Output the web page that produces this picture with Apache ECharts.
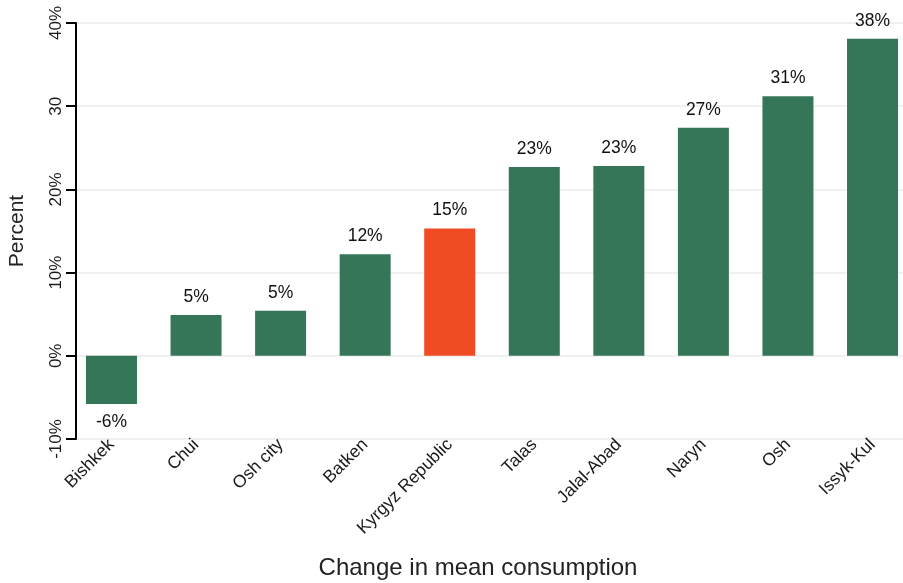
<!DOCTYPE html>
<html>
<head>
<meta charset="utf-8">
<script src="https://cdn.jsdelivr.net/npm/echarts@6/dist/echarts.min.js"></script>
<style>
  html, body { margin: 0; padding: 0; background: #ffffff; overflow: hidden; }
  #chart { width: 930px; height: 583px; }
</style>
</head>
<body>
<div id="chart"></div>
<script>
// Regions and the change in their mean consumption (percent)
const regions = ['Bishkek', 'Chui', 'Osh city', 'Batken', 'Kyrgyz Republic',
                 'Talas', 'Jalal-Abad', 'Naryn', 'Osh', 'Issyk-Kul'];
const changePct = [-5.8, 4.9, 5.4, 12.2, 15.3, 22.7, 22.8, 27.4, 31.2, 38.1];
// The national figure is highlighted
const nationalName = 'Kyrgyz Republic';
// Y tick labels, bottom to top
const yTickValues = [-10, 0, 10, 20, 30, 40];
const yTickLabels = ['-10%', '0%', '10%', '20%', '30', '40%'];

const FONT = "'Liberation Sans', Arial, Helvetica, sans-serif";
const GREEN = '#357658';
const ORANGE = '#F04B23';

const chart = echarts.init(document.getElementById('chart'), null, { renderer: 'canvas' });

chart.setOption({
  backgroundColor: '#ffffff',
  animation: false,
  // the plotting band runs a little past the right edge of the window
  grid: { left: 69.2, top: 23, width: 845.6, height: 416, containLabel: false },
  xAxis: {
    type: 'category',
    data: regions,
    axisLine: { show: false },
    axisTick: { show: false },
    axisLabel: {
      rotate: 45,
      margin: 3,
      interval: 0,
      color: '#1a1a1a',
      fontFamily: FONT,
      fontSize: 17.5
    },
    splitLine: { show: false }
  },
  yAxis: {
    type: 'value',
    min: -10,
    max: 40,
    interval: 10,
    offset: -6.8,
    axisLine: { show: true, lineStyle: { color: '#000000', width: 2 } },
    axisTick: { show: true, length: 10, lineStyle: { color: '#000000', width: 2 } },
    axisLabel: {
      rotate: 90,
      margin: 11,
      color: '#1a1a1a',
      fontFamily: FONT,
      fontSize: 17,
      formatter: function (v) {
        const i = yTickValues.indexOf(v);
        return i >= 0 ? yTickLabels[i] : '';
      }
    },
    splitLine: { show: true, lineStyle: { color: '#ebebeb', width: 1.5 } }
  },
  graphic: [
    {
      type: 'text',
      x: 17.5, y: 231,
      rotation: Math.PI / 2,
      style: {
        text: 'Percent',
        x: 0, y: 0,
        textAlign: 'center',
        textVerticalAlign: 'middle',
        fill: '#222222',
        font: '21px ' + FONT
      }
    },
    {
      type: 'text',
      x: 478, y: 568,
      style: {
        text: 'Change in mean consumption',
        x: 0, y: 0,
        textAlign: 'center',
        textVerticalAlign: 'middle',
        fill: '#222222',
        font: '24px ' + FONT
      }
    }
  ],
  series: [{
    type: 'bar',
    barWidth: 51,
    data: changePct.map(function (v, i) {
      return {
        value: v,
        itemStyle: { color: regions[i] === nationalName ? ORANGE : GREEN },
        label: { position: v < 0 ? 'bottom' : 'top' }
      };
    }),
    label: {
      show: true,
      distance: 9,
      color: '#111111',
      fontFamily: FONT,
      fontSize: 17.5,
      formatter: function (p) { return Math.round(p.value) + '%'; }
    }
  }]
});
</script>
</body>
</html>
